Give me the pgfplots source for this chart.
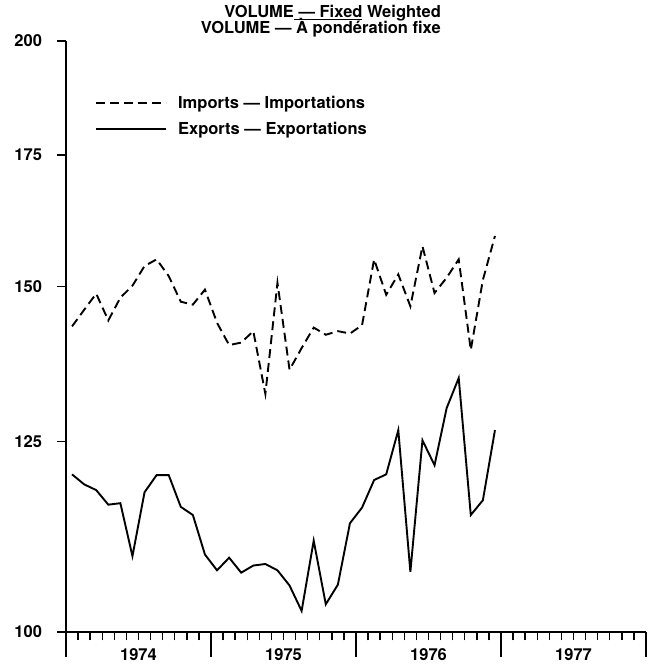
\documentclass[border=0pt]{standalone}
\usepackage{fontspec}
\setmainfont{TeX Gyre Heros}
\usepackage{pgfplots}
\pgfplotsset{compat=1.18}
\pgfplotstableread{
m imp exp
0.5 143.1 120.3
1.5 145.9 118.9
2.5 148.7 118.1
3.5 144.1 116.1
4.5 148.0 116.3
5.5 150.1 109.3
6.5 153.6 117.8
7.5 154.8 120.2
8.5 151.8 120.2
9.5 147.3 115.8
10.5 146.8 114.7
11.5 149.4 109.5
12.5 143.7 107.5
13.5 140.0 109.1
14.5 140.4 107.2
15.5 142.3 108.1
16.5 132.2 108.3
17.5 150.6 107.5
18.5 136.0 105.6
19.5 139.5 102.5
20.5 142.9 111.3
21.5 141.7 103.3
22.5 142.3 105.7
23.5 141.9 113.6
24.5 143.3 115.7
25.5 154.8 119.5
26.5 148.5 120.3
27.5 152.1 126.7
28.5 146.5 107.3
29.5 157.2 125.2
30.5 148.8 121.6
31.5 151.5 130.0
32.5 154.8 134.7
33.5 139.2 114.7
34.5 151.1 116.7
35.5 159.1 126.7
}\data
\begin{document}
\begin{tikzpicture}[font=\fontsize{16.5pt}{18pt}\selectfont\bfseries]
\path[use as bounding box] (-66pt,-37pt) rectangle (583pt,632pt);
\begin{axis}[
  at={(0pt,0pt)}, anchor=south west,
  scale only axis, width=580pt, height=591pt,
  ymode=log, ymin=100, ymax=200, xmin=0, xmax=48,
  axis lines*=left,
  axis line style={line width=1.6pt},
  tick align=outside,
  major tick length=8.5pt,
  tick style={line width=1.4pt, black},
  ytick={100,125,150,175,200},
  yticklabels={100,125,150,175,200},
  yticklabel style={xshift=-12pt},
  xtick={0,...,48},
  xticklabels={,,,,,,1974,,,,,,,,,,,,1975,,,,,,,,,,,,1976,,,,,,,,,,,,1977,,,,,,},
  xticklabel style={yshift=-5pt},
  extra x ticks={0,12,24,36,48},
  extra x tick labels={},
  extra x tick style={major tick length=25pt, tick style={line width=1.6pt}},
  /pgf/number format/assume math mode=true,
  clip=false,
  legend style={at={(axis description cs:0.05,0.907)}, anchor=north west,
    draw=none, fill=none, inner sep=0pt, row sep=12pt,
    nodes={inner sep=0pt, anchor=west}},
  legend cell align=left,
  legend image code/.code={\draw[#1] (0pt,0pt) -- (70pt,0pt);},
  /tikz/every odd column/.append style={column sep=11pt},
]
\addplot[black, line width=1.9pt, dash pattern=on 9pt off 5pt] table[x=m, y=imp] {\data};
\addlegendentry{Imports --- Importations}
\addplot[black, line width=1.9pt] table[x=m, y=exp] {\data};
\addlegendentry{Exports --- Exportations}
\node[anchor=base east, inner sep=0pt] at (axis description cs:0.6466,1.0398) {VOLUME\underline{\ --- Fixed} Weighted};
\node[anchor=base east, inner sep=0pt] at (axis description cs:0.6466,1.0127) {VOLUME --- À pondération fixe};
\end{axis}
\end{tikzpicture}
\end{document}
